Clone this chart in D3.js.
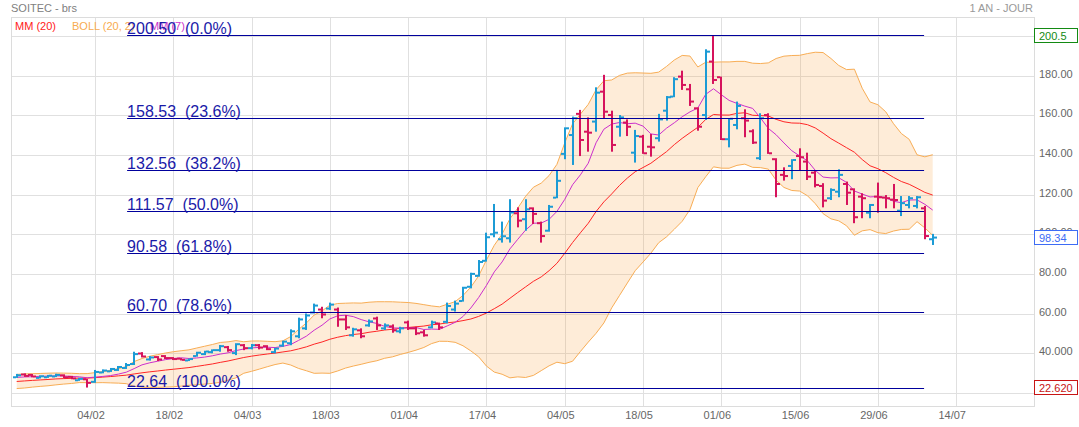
<!DOCTYPE html>
<html>
<head>
<meta charset="utf-8">
<script src="https://cdn.jsdelivr.net/npm/d3@7"></script>
<style>
  body { margin: 0; background: #fff; }
  svg { font-family: "Liberation Sans", Arial, sans-serif; display: block; }
  .fib-label { white-space: pre; }
</style>
</head>
<body>
<svg id="chart" width="1079" height="427"></svg>
<script>
// Daily OHLC, SOITEC, 1 year view (last ~118 sessions shown)
const opens = [
  27.8, 29.2, 29.0, 27.5, 27.8, 28.2, 28.8, 28.0, 26.3, 26.8,
  25.5, 30.2, 30.8, 31.5, 32.5, 34.5, 39.8, 36.8, 38.0, 38.5,
  37.5, 37.2, 36.3, 38.5, 39.5, 40.5, 41.5, 43.0, 40.0, 44.0,
  42.5, 44.0, 43.5, 40.5, 43.8, 45.0, 48.5, 52.5, 60.5, 62.0,
  62.5, 62.0, 57.0, 49.0, 51.5, 54.0, 57.5, 52.5, 53.5, 51.0,
  55.5, 52.5, 50.5, 53.0, 55.0, 55.8, 62.0, 66.3, 73.5, 79.0,
  86.6, 100.0, 97.5, 98.0, 110.6, 107.6, 113.1, 105.6, 101.8, 118.5,
  140.6, 150.1, 160.8, 151.8, 156.9, 172.0, 160.2, 154.3, 156.4, 141.2,
  149.3, 144.2, 148.5, 162.4, 169.5, 179.6, 173.2, 163.6, 160.2, 187.2,
  179.3, 148.0, 155.2, 158.6, 152.0, 138.4, 160.2, 137.9, 130.0, 134.5,
  139.5, 136.7, 131.1, 124.4, 118.2, 121.5, 125.4, 122.7, 119.0, 110.9,
  119.0, 118.5, 117.5, 111.9, 114.8, 114.3, 113.1, 97.5
];
const highs = [
  29.5, 29.8, 29.5, 28.8, 29.0, 29.6, 29.3, 28.5, 27.5, 27.0,
  31.5, 31.8, 32.5, 33.5, 35.0, 40.7, 40.5, 38.5, 38.5, 39.0,
  38.0, 37.5, 37.3, 40.7, 41.2, 41.9, 44.1, 43.6, 45.0, 44.6,
  44.6, 44.6, 44.0, 42.7, 46.3, 52.0, 57.9, 60.0, 65.0, 63.4,
  65.5, 63.0, 59.2, 52.8, 52.5, 57.0, 58.4, 55.0, 54.5, 53.3,
  56.4, 53.3, 51.7, 56.4, 55.4, 65.5, 66.5, 73.5, 80.6, 87.0,
  100.8, 115.3, 106.4, 117.7, 113.6, 117.7, 113.6, 106.4, 114.8, 132.5,
  154.0, 159.4, 162.8, 159.0, 174.2, 180.5, 162.4, 160.2, 158.0, 152.7,
  150.2, 150.6, 160.8, 169.8, 179.3, 182.6, 175.9, 164.1, 193.4, 200.5,
  179.6, 158.6, 167.0, 163.1, 153.0, 161.1, 161.1, 138.4, 133.8, 137.9,
  143.4, 141.2, 132.1, 125.8, 123.2, 132.8, 126.6, 123.2, 120.7, 115.3,
  126.1, 119.8, 125.4, 119.3, 119.3, 119.3, 114.3, 100.2
];
const lows = [
  27.5, 28.0, 27.8, 27.2, 27.5, 27.9, 27.3, 26.8, 26.0, 22.62,
  25.0, 29.8, 30.5, 31.0, 32.0, 34.0, 37.8, 36.2, 36.0, 37.0,
  36.5, 36.3, 36.0, 38.2, 39.0, 39.9, 40.7, 40.7, 39.0, 41.5,
  41.9, 41.9, 41.5, 39.9, 43.2, 44.0, 47.5, 51.7, 60.0, 57.6,
  61.8, 53.3, 51.7, 48.3, 47.5, 53.3, 51.7, 51.7, 50.3, 50.0,
  51.7, 49.1, 48.3, 52.5, 51.7, 55.0, 61.0, 66.0, 72.7, 78.6,
  86.2, 98.5, 95.8, 95.8, 103.5, 101.8, 105.2, 95.8, 101.3, 118.2,
  137.9, 135.0, 139.5, 141.7, 151.8, 158.6, 141.7, 149.3, 149.6, 136.2,
  140.6, 139.2, 146.8, 157.4, 169.2, 172.9, 164.8, 152.3, 157.7, 175.9,
  147.6, 143.9, 153.0, 149.0, 145.6, 137.5, 140.6, 118.7, 127.1, 127.8,
  132.1, 127.4, 123.7, 113.6, 117.3, 118.7, 114.8, 105.6, 108.1, 108.1,
  110.9, 113.1, 113.1, 109.2, 113.1, 113.1, 97.5, 94.6
];
const closes = [
  28.8, 28.5, 28.2, 28.3, 28.6, 29.0, 27.8, 27.2, 27.0, 25.0,
  30.5, 31.2, 32.0, 33.0, 34.0, 39.5, 38.3, 37.8, 36.8, 37.5,
  37.0, 36.6, 37.0, 40.2, 40.8, 41.5, 43.5, 41.5, 44.5, 42.5,
  44.0, 42.8, 42.0, 42.3, 45.8, 51.0, 57.0, 59.0, 64.0, 59.5,
  64.5, 57.0, 53.0, 52.0, 48.5, 56.0, 54.0, 54.0, 51.5, 52.5,
  52.5, 50.0, 49.0, 55.5, 53.0, 63.8, 65.0, 73.0, 80.0, 86.0,
  98.5, 100.8, 99.0, 111.0, 106.9, 112.6, 110.3, 99.1, 113.9, 127.0,
  153.5, 158.6, 147.6, 151.3, 171.5, 161.9, 145.1, 159.0, 154.3, 149.6,
  140.9, 143.9, 158.0, 169.2, 178.3, 175.4, 167.0, 154.3, 192.2, 177.9,
  148.0, 158.3, 164.8, 157.4, 146.3, 158.6, 140.9, 125.4, 129.4, 137.5,
  138.9, 129.1, 124.9, 117.0, 122.4, 130.0, 121.0, 108.6, 118.2, 114.8,
  118.7, 118.2, 117.3, 115.7, 118.2, 118.7, 99.1, 98.34
];
// closes before the visible window (warm-up for MM / BOLL)
const history = [
  23.1, 22.8, 23.5, 24.0, 23.6, 24.4, 24.9, 24.5, 25.2, 25.8,
  25.4, 26.3, 26.0, 26.9, 27.4, 27.0, 27.8, 28.3, 28.0
];

const xTickLabels = ["04/02", "18/02", "04/03", "18/03", "01/04", "17/04",
                     "04/05", "18/05", "01/06", "15/06", "29/06", "14/07"];
const xTickBars = [10, 20, 30, 40, 50, 60, 70, 80, 90, 100, 110, 120];

const yGrid = [20, 40, 60, 80, 100, 120, 140, 160, 180, 200];
const yLabels = ["20.000", "40.000", "60.00", "80.00", "100.00", "120.00",
                 "140.00", "160.00", "180.00", "200.00"];

const fibValues = [200.50, 158.53, 132.56, 111.57, 90.58, 60.70, 22.64];
const fibPcts = ["0.0%", "23.6%", "38.2%", "50.0%", "61.8%", "78.6%", "100.0%"];
const fibFrom = 14.1, fibTo = 115.9;   // bar index span of the retracement tool

const svg = d3.select("#chart");
const L = 11, R = 1034, T = 17, B = 406;

const n = closes.length;
const x = d3.scaleLinear().domain([-0.73, 129.94]).range([L, R]);
const y = d3.scaleLinear().domain([13.3, 209.7]).range([B, T]);

// Indicators
const all = history.concat(closes);
const off = history.length;
const ind = d3.range(n).map((i) => {
  const k = i + off;
  const w20 = all.slice(k - 19, k + 1);
  const w7 = all.slice(k - 6, k + 1);
  const m20 = d3.mean(w20);
  const sd = Math.sqrt(d3.mean(w20, (v) => (v - m20) * (v - m20)));
  return { i, m20, m7: d3.mean(w7), up: m20 + 2 * sd, lo: m20 - 2 * sd };
});

// Header texts
svg.append("text").attr("x", 11).attr("y", 12).attr("font-size", 11)
  .attr("fill", "#808080").text("SOITEC - brs");
svg.append("text").attr("x", 1033).attr("y", 12).attr("font-size", 11)
  .attr("text-anchor", "end").attr("fill", "#999").text("1 AN - JOUR");

// Grid
const grid = svg.append("g").attr("stroke", "#e0e0e0").attr("stroke-width", 1);
grid.selectAll(".hg").data(yGrid).join("line")
  .attr("x1", L).attr("x2", R)
  .attr("y1", (d) => Math.round(y(d)) + 0.5).attr("y2", (d) => Math.round(y(d)) + 0.5);
grid.selectAll(".vg").data(xTickBars).join("line")
  .attr("y1", T).attr("y2", B)
  .attr("x1", (d) => Math.round(x(d)) + 0.5).attr("x2", (d) => Math.round(x(d)) + 0.5);
svg.append("rect").attr("x", L + 0.5).attr("y", T + 0.5)
  .attr("width", R - L).attr("height", B - T)
  .attr("fill", "none").attr("stroke", "#dcdcdc");

// Axis labels
svg.append("g").selectAll("text").data(yGrid).join("text")
  .attr("x", 1039).attr("y", (d) => y(d) + 2)
  .attr("font-size", 11).attr("fill", "#666")
  .text((d, i) => yLabels[i]);
svg.append("g").selectAll("text").data(xTickBars).join("text")
  .attr("x", (d) => x(d) - 4).attr("y", 419)
  .attr("text-anchor", "middle").attr("font-size", 11).attr("fill", "#666")
  .text((d, i) => xTickLabels[i]);

// Bollinger band
svg.append("path").datum(ind)
  .attr("fill", "#f9a23a").attr("fill-opacity", 0.2)
  .attr("d", d3.area().x((d) => x(d.i)).y0((d) => y(d.lo)).y1((d) => y(d.up)));
["up", "lo"].forEach((key) => {
  svg.append("path").datum(ind)
    .attr("fill", "none").attr("stroke", "#f8ad55").attr("stroke-width", 1)
    .attr("d", d3.line().x((d) => x(d.i)).y((d) => y(d[key])));
});
svg.append("path").datum(ind)
  .attr("fill", "none").attr("stroke", "#ff2626").attr("stroke-width", 1)
  .attr("d", d3.line().x((d) => x(d.i)).y((d) => y(d.m20)));
svg.append("path").datum(ind)
  .attr("fill", "none").attr("stroke", "#cc2fcc").attr("stroke-width", 1)
  .attr("d", d3.line().x((d) => x(d.i)).y((d) => y(d.m7)));

// OHLC bars
const bars = svg.append("g").selectAll("g").data(d3.range(n)).join("g")
  .attr("fill", (i) => (closes[i] >= opens[i] ? "#1c9bd5" : "#d6135c"));
bars.append("rect")
  .attr("x", (i) => Math.round(x(i)) - 1).attr("width", 2)
  .attr("y", (i) => y(highs[i])).attr("height", (i) => Math.max(1, y(lows[i]) - y(highs[i])));
bars.append("rect")
  .attr("x", (i) => Math.round(x(i)) - 4).attr("width", 3)
  .attr("y", (i) => y(opens[i]) - 1).attr("height", 2);
bars.append("rect")
  .attr("x", (i) => Math.round(x(i)) + 1).attr("width", 3)
  .attr("y", (i) => y(closes[i]) - 1).attr("height", 2);

// Legend
const legend = [["MM (20)", "#ff1a1a", 15], ["BOLL (20, 2)", "#f7ab4f", 72], ["MM (7)", "#cc33cc", 150]];
svg.append("g").selectAll("text").data(legend).join("text")
  .attr("x", (d) => d[2]).attr("y", 30).attr("font-size", 11)
  .attr("fill", (d) => d[1]).text((d) => d[0]);

// Fibonacci retracement
const fib = svg.append("g");
fib.selectAll("line").data(fibValues).join("line")
  .attr("x1", x(fibFrom)).attr("x2", x(fibTo))
  .attr("y1", (d) => Math.round(y(d)) + 0.5).attr("y2", (d) => Math.round(y(d)) + 0.5)
  .attr("stroke", "#00009c").attr("stroke-width", 1);
fib.selectAll("text").data(fibValues).join("text")
  .attr("class", "fib-label")
  .attr("x", x(fibFrom)).attr("y", (d) => Math.round(y(d)) - 1)
  .attr("font-size", 16).attr("fill", "#1a1aa8")
  .text((d, i) => d.toFixed(2) + "  (" + fibPcts[i] + ")");

// Value boxes on the price axis
const boxes = [
  [d3.max(highs), "200.5", "#138a13"],
  [closes[n - 1], "98.34", "#3d6cf5"],
  [d3.min(lows), "22.620", "#c81414"]
];
const bx = svg.append("g").selectAll("g").data(boxes).join("g")
  .attr("transform", (d) => `translate(1034,${Math.round(y(d[0]) - 7.5)})`);
bx.append("rect").attr("x", 0.5).attr("y", 0.5).attr("width", 43).attr("height", 14)
  .attr("fill", "#fff").attr("stroke", (d) => d[2]);
bx.append("text").attr("x", 5).attr("y", 11.5).attr("font-size", 11)
  .attr("fill", (d) => d[2]).text((d) => d[1]);
</script>
</body>
</html>
